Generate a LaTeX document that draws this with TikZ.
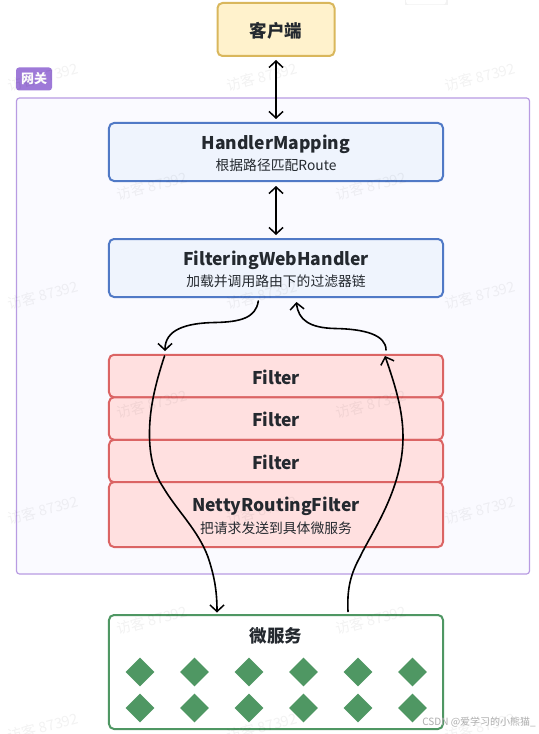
\documentclass[tikz,border=0pt]{standalone}
\usepackage{fontspec}
\setmainfont{Noto Sans CJK SC}
\usetikzlibrary{arrows.meta,shapes.geometric,shadows}
\definecolor{ylF}{HTML}{FFF2CC}\definecolor{ylS}{HTML}{D9B75C}
\definecolor{blF}{HTML}{EFF4FD}\definecolor{blS}{HTML}{5079C6}
\definecolor{rdF}{HTML}{FFE0E0}\definecolor{rdS}{HTML}{DB6464}
\definecolor{grS}{HTML}{4F9763}
\definecolor{puS}{HTML}{B89BE2}\definecolor{puF}{HTML}{FAFAFF}\definecolor{puL}{HTML}{9E79D8}
\definecolor{ink}{HTML}{24292F}
\newcommand{\bigt}[1]{{\fontsize{17.5bp}{20bp}\selectfont\bfseries\raisebox{-1bp}[16bp]{#1}}}
\newcommand{\subt}[1]{{\fontsize{13.8bp}{16bp}\selectfont #1}}
\tikzset{
  box/.style={draw,line width=2bp,rounded corners=5bp,inner sep=0pt,outer sep=0pt,text=ink,align=center},
  ylbox/.style={box,draw=ylS,fill=ylF},
  blbox/.style={box,draw=blS,fill=blF},
  rdbox/.style={box,draw=rdS,fill=rdF},
  grbox/.style={box,draw=grS,fill=white},
  link/.style={draw=black,line width=1.6bp,line cap=round},
  tipb/.style={-{Straight Barb[length=6.5bp,width=14bp,line width=1.5bp]}},
  tipbb/.style={{Straight Barb[length=6.5bp,width=14bp,line width=1.5bp]}-{Straight Barb[length=6.5bp,width=14bp,line width=1.5bp]}},
  gem/.style={diamond,fill=grS,inner sep=0pt,minimum width=29bp,minimum height=29bp},
  mark text/.style={rotate=15,text=black,opacity=.05,font=\fontsize{14.5bp}{16bp}\selectfont}
}
\begin{document}
\begin{tikzpicture}[x=1bp,y=-1bp]
\useasboundingbox (0,0) rectangle (539,734);
\fill[white] (0,0) rectangle (539,734);
% stray panel at the top edge
\fill[black!5] (404.5,-4) rectangle (447.5,5.5);
\fill[white,rounded corners=3bp] (406,-4) rectangle (446,4.5);
% gateway
\node[draw=puS,fill=puF,line width=1.2bp,rounded corners=3bp,minimum width=513bp,minimum height=476bp,inner sep=0pt] (gw) at (273,336) {};
\node[fill=puL,rounded corners=3bp,minimum width=36bp,minimum height=23bp,inner sep=0pt,text=white,font=\fontsize{13bp}{15bp}\selectfont\bfseries] (gwl) at (34,79) {网关};
% boxes
\node[ylbox,minimum width=117bp,minimum height=53bp] (client) at (276,29.5) {\bigt{客户端}};
\node[blbox,minimum width=334bp,minimum height=58bp] (hm) at (276,152) {\bigt{HandlerMapping}\\[4.5bp]\subt{根据路径匹配Route}};
\node[blbox,minimum width=334bp,minimum height=58bp] (fw) at (276,268) {\bigt{FilteringWebHandler}\\[4.5bp]\subt{加载并调用路由下的过滤器链}};
\node[rdbox,minimum width=334bp,minimum height=42.5bp] (f1) at (276,376) {\bigt{Filter}};
\node[rdbox,minimum width=334bp,minimum height=42.5bp] (f2) at (276,418.5) {\bigt{Filter}};
\node[rdbox,minimum width=334bp,minimum height=42.5bp] (f3) at (276,461) {\bigt{Filter}};
\node[rdbox,minimum width=334bp,minimum height=65bp] (nrf) at (276,514.5) {\bigt{NettyRoutingFilter}\\[4.5bp]\subt{把请求发送到具体微服务}};
\node[grbox,minimum width=334bp,minimum height=114bp] (ms) at (276,672) {};
\node[text=ink,inner sep=0pt] (mst) at (276,634.5) {\bigt{微服务}};
\foreach \r/\yy in {1/672,2/708}
  \foreach \c/\xx in {1/140,2/194.5,3/249,4/303.5,5/358,6/412.5}
    \node[gem] (g\r\c) at (\xx,\yy) {};
% connector ends (yshift is in page direction: positive is up)
\coordinate (c1) at ([yshift=-4bp]client.south);
\coordinate (h1) at ([yshift=4bp]hm.north);
\coordinate (h2) at ([yshift=-5bp]hm.south);
\coordinate (w1) at ([yshift=4bp]fw.north);
\coordinate (wl) at (258.3,301);
\coordinate (wr) at (296.5,302);
\coordinate (fl) at (165,351);
\coordinate (fr) at (386,350);
\coordinate (fl2) at (164.5,356);
\coordinate (fr2) at (385,356);
\coordinate (ml) at (217,612.5);
\coordinate (mr) at (348,611.5);
% connectors
\draw[link,tipbb] (c1) -- (h1);
\draw[link,tipbb] (h2) -- (w1);
\draw[link,tipb] (wl) .. controls (256,318) and (240,322) .. (215,322.5) .. controls (185,323) and (165,330) .. (fl);
\draw[link,tipb] (fr) .. controls (386,335) and (365,329) .. (335,328.5) .. controls (310,328) and (298,320) .. (wr);
\draw[link,tipb] (fl2) .. controls (155,385) and (149,410) .. (149.5,437) .. controls (150,460) and (155,475) .. (163,487) .. controls (178,512) and (198,530) .. (208,557) .. controls (214,575) and (217,590) .. (ml);
\draw[link,tipb] (mr) .. controls (347,590) and (350,575) .. (360,557) .. controls (370,535) and (403,490) .. (403,437) .. controls (403,410) and (395,385) .. (fr2);
% watermarks
\foreach \i/\mx/\my in {1/43/77,2/262/77,3/480/77,4/43/295,5/262/295,6/480/295,7/43/510,8/262/510,9/480/510,10/43/727,11/262/727,12/480/727,13/152/186,14/371/186,15/152/404,16/371/404,17/152/620,18/371/620}
  \node[mark text] (wm\i) at (\mx,\my) {访客 87392};
\node[text=black!32,font=\fontsize{10bp}{11bp}\selectfont,anchor=east,inner sep=0pt] (csdn) at (536,722) {CSDN @爱学习的小熊猫\_};
\end{tikzpicture}
\end{document}
